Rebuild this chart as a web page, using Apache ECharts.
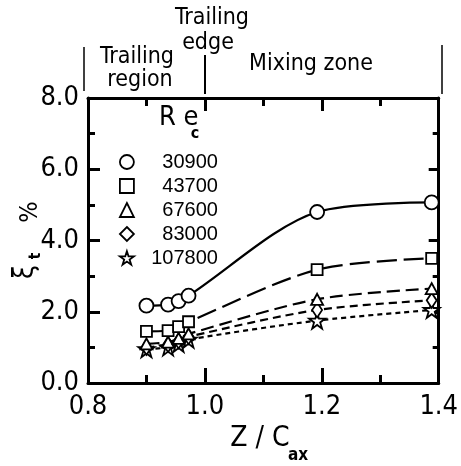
<!DOCTYPE html>
<html>
<head>
<meta charset="utf-8">
<script src="https://cdn.jsdelivr.net/npm/echarts@6/dist/echarts.min.js"></script>
<style>
html,body{margin:0;padding:0;background:#fff;}
#c{width:461px;height:466px;}
</style>
</head>
<body>
<div id="c"></div>
<script>
// ---- data ----
const zPositions = [0.9, 0.937, 0.955, 0.972, 1.192, 1.388];
const seriesNames = ['30900', '43700', '67600', '83000', '107800'];
const re30900  = [2.17, 2.20, 2.30, 2.45, 4.80, 5.07];
const re43700  = [1.45, 1.47, 1.58, 1.72, 3.18, 3.50];
const re67600  = [1.10, 1.15, 1.25, 1.38, 2.35, 2.65];
const re83000  = [1.00, 1.08, 1.18, 1.30, 2.05, 2.32];
const re107800 = [0.95, 1.00, 1.10, 1.22, 1.75, 2.05];
const xTicks = [0.8, 1.0, 1.2, 1.4];
const yTicks = [0.0, 2.0, 4.0, 6.0, 8.0];

const FONT = "'Liberation Sans Narrow','DejaVu Sans Condensed','Liberation Sans',sans-serif";
const STAR = 'path://M50,2 L61,36 L97,36 L68,57 L79,92 L50,71 L21,92 L32,57 L3,36 L39,36 Z';
const symbols = ['circle', 'rect', 'triangle', 'diamond', STAR];
const symbolSizes = [[14,14], [11,11], [12,11], [10,15], [16,16]];
const dashes = ['solid', [20,7], [13,6], [8,5], [5,4]];
const values = [re30900, re43700, re67600, re83000, re107800];

const series = seriesNames.map((name, i) => ({
  name: name,
  type: 'line',
  smooth: 0.3,
  symbol: symbols[i],
  symbolSize: symbolSizes[i],
  showAllSymbol: true,
  data: zPositions.map((z, k) => [z, values[i][k]]),
  lineStyle: { color: '#000', width: 2.2, type: dashes[i] },
  itemStyle: { color: '#fff', borderColor: '#000', borderWidth: 1.8 },
  z: 10 - i
}));

const chart = echarts.init(document.getElementById('c'), null, { renderer: 'canvas' });

const axisCommon = {
  axisLine: { show: true, onZero: false, lineStyle: { color: '#000', width: 3 } },
  splitLine: { show: false },
  minorSplitLine: { show: false }
};

function txt(x, y, text, size, opts) {
  opts = opts || {};
  return {
    type: 'text', x: x, y: y, rotation: opts.rotation || 0,
    style: {
      text: text, fontSize: size, fontFamily: FONT, fontWeight: opts.bold ? 'bold' : 'normal',
      fill: '#000', align: opts.align || 'center', verticalAlign: 'middle'
    }
  };
}

chart.setOption({
  animation: false,
  backgroundColor: '#fff',
  grid: { left: 88, right: 20, top: 98, bottom: 83, containLabel: false },
  xAxis: [
    Object.assign({}, axisCommon, {
      type: 'value', min: 0.8, max: 1.4, interval: 0.2, position: 'bottom',
      axisTick: { show: true, inside: true, length: 15, lineStyle: { color: '#000', width: 3 } },
      minorTick: { show: true, splitNumber: 2, length: 8, lineStyle: { color: '#000', width: 3 } },
      axisLabel: { color: '#000', fontFamily: FONT, fontSize: 27, margin: 10,
        formatter: v => xTicks.some(t => Math.abs(t - v) < 1e-6) ? v.toFixed(1) : '' }
    }),
    Object.assign({}, axisCommon, {
      type: 'value', min: 0.8, max: 1.4, interval: 0.2, position: 'top',
      axisTick: { show: true, inside: true, length: 13, lineStyle: { color: '#000', width: 3 } },
      minorTick: { show: true, splitNumber: 2, length: 8, lineStyle: { color: '#000', width: 3 } },
      axisLabel: { show: false }
    })
  ],
  yAxis: [
    Object.assign({}, axisCommon, {
      type: 'value', min: 0, max: 8, interval: 2, position: 'left',
      axisTick: { show: true, inside: true, length: 12, lineStyle: { color: '#000', width: 3 } },
      minorTick: { show: true, splitNumber: 2, length: 7, lineStyle: { color: '#000', width: 3 } },
      axisLabel: { color: '#000', fontFamily: FONT, fontSize: 27, margin: 9,
        formatter: v => yTicks.some(t => Math.abs(t - v) < 1e-6) ? v.toFixed(1) : '' }
    }),
    Object.assign({}, axisCommon, {
      type: 'value', min: 0, max: 8, interval: 2, position: 'right',
      axisTick: { show: true, inside: true, length: 10, lineStyle: { color: '#000', width: 3 } },
      minorTick: { show: true, splitNumber: 2, length: 6, lineStyle: { color: '#000', width: 3 } },
      axisLabel: { show: false }
    })
  ],
  legend: {
    orient: 'vertical',
    left: 114, top: 147,
    itemWidth: 14, itemHeight: 14,
    itemGap: 4,
    selectedMode: false,
    data: seriesNames.map((n, i) => ({ name: n, icon: symbols[i] })),
    itemStyle: { color: '#fff', borderColor: '#000', borderWidth: 1.8 },
    lineStyle: { width: 0, opacity: 0 },
    formatter: '{a|{name}}',
    textStyle: {
      fontSize: 20, fontFamily: "'Liberation Sans',sans-serif", color: '#000',
      rich: { a: { width: 79, align: 'right', fontFamily: "'Liberation Sans',sans-serif", fontSize: 20, color: '#000', lineHeight: 22 } }
    }
  },
  graphic: [
    // region annotations
    { type: 'line', shape: { x1: 84, y1: 47, x2: 84, y2: 91 }, style: { stroke: '#000', lineWidth: 1.5 } },
    { type: 'line', shape: { x1: 205, y1: 55, x2: 205, y2: 94 }, style: { stroke: '#000', lineWidth: 2 } },
    { type: 'line', shape: { x1: 442, y1: 45, x2: 442, y2: 94 }, style: { stroke: '#000', lineWidth: 1.5 } },
    txt(137, 57, 'Trailing', 23),
    txt(140, 80, 'region', 23),
    txt(212, 18, 'Trailing', 23),
    txt(208, 43, 'edge', 23),
    txt(311, 64, 'Mixing zone', 23),
    // legend header Re_c
    txt(159, 118, 'R e', 27, { align: 'left' }),
    txt(195, 134, 'c', 16, { bold: true }),
    // y-axis title  ξt %
    txt(26, 272, 'ξ', 28, { rotation: Math.PI / 2 }),
    txt(36, 256, 't', 15, { rotation: Math.PI / 2, bold: true }),
    txt(30, 212, '%', 25, { rotation: Math.PI / 2 }),
    // x-axis title Z / C_ax
    txt(260, 439, 'Z / C', 28),
    txt(298, 456, 'ax', 17, { bold: true })
  ],
  series: series
});
</script>
</body>
</html>
